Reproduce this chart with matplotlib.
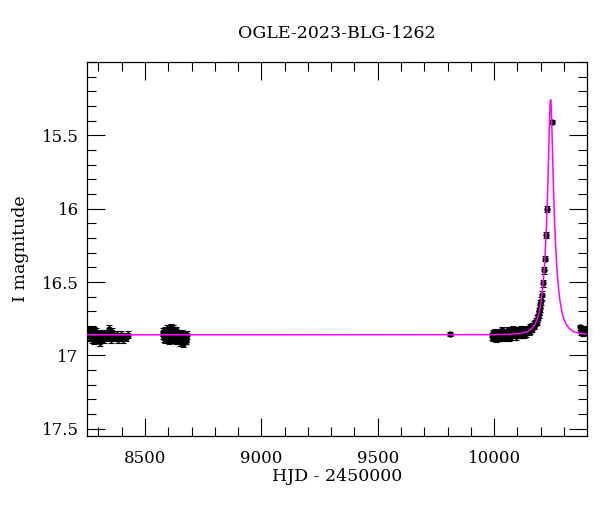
import matplotlib
matplotlib.use('Agg')
import matplotlib.pyplot as plt
from matplotlib.ticker import MultipleLocator

# data (HJD - 2450000, I mag)
t1 = [8257, 8259, 8261, 8263, 8265, 8267, 8269, 8271, 8273, 8275,
      8277, 8279, 8281, 8283, 8286, 8288, 8290, 8293, 8296, 8299,
      8302, 8305, 8308, 8311, 8315, 8319, 8323, 8327,
      8338, 8341, 8344, 8347, 8350, 8353, 8356, 8359, 8363,
      8376, 8380, 8384, 8388, 8393, 8398, 8404, 8411, 8418, 8425]
m1 = [16.84, 16.86, 16.83, 16.87, 16.85, 16.88, 16.84, 16.86, 16.89, 16.85,
      16.87, 16.83, 16.86, 16.90, 16.85, 16.88, 16.84, 16.87, 16.86, 16.89,
      16.85, 16.91, 16.87, 16.86, 16.88, 16.85, 16.89, 16.87,
      16.87, 16.85, 16.88, 16.82, 16.86, 16.89, 16.86, 16.84, 16.87,
      16.88, 16.86, 16.89, 16.87, 16.88, 16.86, 16.89, 16.87, 16.88, 16.86]

t2 = [8576, 8578, 8580, 8582, 8584, 8586, 8588, 8590, 8592, 8594,
      8596, 8598, 8600, 8602, 8604, 8606, 8608, 8610, 8612, 8614,
      8616, 8618, 8620, 8622, 8624, 8626, 8628, 8630, 8632, 8634,
      8636, 8638, 8640, 8642, 8645, 8648, 8651, 8654, 8657, 8660,
      8663, 8666, 8669, 8672, 8675, 8678, 8681]
m2 = [16.86, 16.84, 16.88, 16.85, 16.87, 16.83, 16.89, 16.86, 16.84, 16.88,
      16.82, 16.87, 16.85, 16.90, 16.83, 16.86, 16.88, 16.81, 16.85, 16.87,
      16.84, 16.89, 16.82, 16.86, 16.88, 16.84, 16.87, 16.85, 16.90, 16.83,
      16.86, 16.88, 16.85, 16.87, 16.89, 16.86, 16.91, 16.87, 16.85, 16.88,
      16.92, 16.86, 16.89, 16.87, 16.90, 16.88, 16.86]

t_single = [9810]
m_single = [16.855]

t3 = [9990, 9993, 9996, 9999, 10002, 10005, 10008, 10011, 10014, 10017,
      10020, 10023, 10026, 10029, 10032, 10035, 10038, 10041, 10044, 10047,
      10050, 10053, 10056, 10059, 10062, 10065, 10068, 10071, 10074, 10077,
      10080, 10083, 10086, 10089, 10092, 10095, 10098, 10101, 10104, 10107,
      10110, 10113, 10116, 10119, 10122, 10125, 10128, 10131, 10134, 10137,
      10140, 10143, 10146, 10149, 10152, 10155, 10158, 10161, 10164, 10167,
      10170, 10173, 10176, 10179, 10182, 10185, 10188, 10191, 10194,
      10196.5, 10199, 10202.5, 10205.5, 10209.5, 10214.5, 10217.5, 10222.5, 10227, 10247]
m3 = [16.87, 16.85, 16.88, 16.86, 16.84, 16.87, 16.89, 16.85, 16.86, 16.88,
      16.84, 16.87, 16.85, 16.88, 16.86, 16.83, 16.87, 16.85, 16.88, 16.86,
      16.84, 16.87, 16.85, 16.83, 16.86, 16.88, 16.84, 16.86, 16.83, 16.87,
      16.85, 16.82, 16.86, 16.84, 16.87, 16.83, 16.85, 16.86, 16.83, 16.85,
      16.84, 16.86, 16.82, 16.85, 16.84, 16.83, 16.86, 16.84, 16.82, 16.85,
      16.83, 16.84, 16.82, 16.84, 16.81, 16.83, 16.82, 16.80, 16.82, 16.80,
      16.79, 16.80, 16.78, 16.77, 16.77, 16.75, 16.74, 16.72, 16.70,
      16.68, 16.65, 16.63, 16.59, 16.51, 16.42, 16.34, 16.18, 16.00, 15.41]
e3_peak = [0.025, 0.025, 0.028, 0.03, 0.025, 0.022, 0.02, 0.02, 0.02, 0.015]

t4 = [10368, 10371, 10374, 10377, 10381, 10386, 10391]
m4 = [16.81, 16.83, 16.84, 16.82, 16.85, 16.83, 16.84]

# model curve (magenta)
model_t = [8251, 9990, 10072.5, 10112.5, 10142.5, 10162.5, 10177.5, 10185.5,
           10192.5, 10197.5, 10202.5, 10207.5, 10212.5, 10217.5, 10220, 10222.5,
           10224.5, 10226.5, 10228.5, 10230.5, 10232, 10233.5, 10235, 10236.5,
           10237.5, 10238.5, 10239.5, 10240.5, 10241.5, 10242.5, 10243.5, 10244.5,
           10245.5, 10246.5, 10247.5, 10248.5, 10250, 10251.5, 10253, 10254.5,
           10256.5, 10258.5, 10260.5, 10262.5, 10265, 10267.5, 10272.5, 10277.5,
           10282.5, 10287.5, 10292.5, 10299.5, 10307.5, 10322.5, 10342.5, 10372.5, 10398]
model_m = [16.86, 16.859, 16.856, 16.851, 16.839, 16.817, 16.783, 16.752,
           16.712, 16.673, 16.623, 16.556, 16.468, 16.351, 16.279, 16.196,
           16.120, 16.036, 15.942, 15.838, 15.753, 15.663, 15.572, 15.480,
           15.422, 15.369, 15.323, 15.287, 15.264, 15.257, 15.264, 15.287,
           15.323, 15.369, 15.422, 15.480, 15.572, 15.663, 15.753, 15.838,
           15.942, 16.036, 16.120, 16.196, 16.279, 16.351, 16.468, 16.556,
           16.623, 16.673, 16.712, 16.752, 16.783, 16.817, 16.839, 16.851, 16.854]

y_ticks = [15.5, 16, 16.5, 17, 17.5]
y_labels = ['15.5', '16', '16.5', '17', '17.5']
x_ticks = [8500, 9000, 9500, 10000]

plt.rcParams['font.family'] = ['DejaVu Serif']
plt.rcParams['font.size'] = 12

fig = plt.figure(figsize=(6, 5.12), dpi=100)
ax = fig.add_axes([0.145, 0.1484, 0.833, 0.7305])

pts = dict(fmt='o', color='black', ms=3.5, elinewidth=0.8, capsize=2, capthick=0.8, zorder=2)
ax.errorbar(t1, m1, yerr=0.024, **pts)
ax.errorbar(t2, m2, yerr=0.026, **pts)
ax.errorbar(t_single, m_single, yerr=0.015, **pts)
ax.errorbar(t3, m3, yerr=[0.022] * (len(t3) - len(e3_peak)) + e3_peak, **pts)
ax.errorbar(t4, m4, yerr=0.02, **pts)

ax.plot(model_t, model_m, color='#ff00ff', linewidth=1.1, zorder=3)

ax.set_xlim(8251, 10398)
ax.set_ylim(17.55, 15.0)
ax.set_xticks(x_ticks)
ax.set_yticks(y_ticks)
ax.set_yticklabels(y_labels)
ax.xaxis.set_minor_locator(MultipleLocator(100))
ax.yaxis.set_minor_locator(MultipleLocator(0.1))

ax.tick_params(which='both', direction='in', top=True, right=True, width=0.8, color='black')
ax.tick_params(which='major', length=13)
ax.tick_params(which='minor', length=6.5)
ax.tick_params(axis='x', which='both', pad=10)
ax.tick_params(axis='y', which='both', pad=6)
for s in ax.spines.values():
    s.set_linewidth(0.9)

ax.set_title('OGLE-2023-BLG-1262', fontsize=12.5, pad=17)
ax.set_xlabel('HJD - 2450000', fontsize=12.5, labelpad=1)
ax.set_ylabel('I magnitude', fontsize=12.5, labelpad=9)

fig.savefig('out.png', dpi=100)
